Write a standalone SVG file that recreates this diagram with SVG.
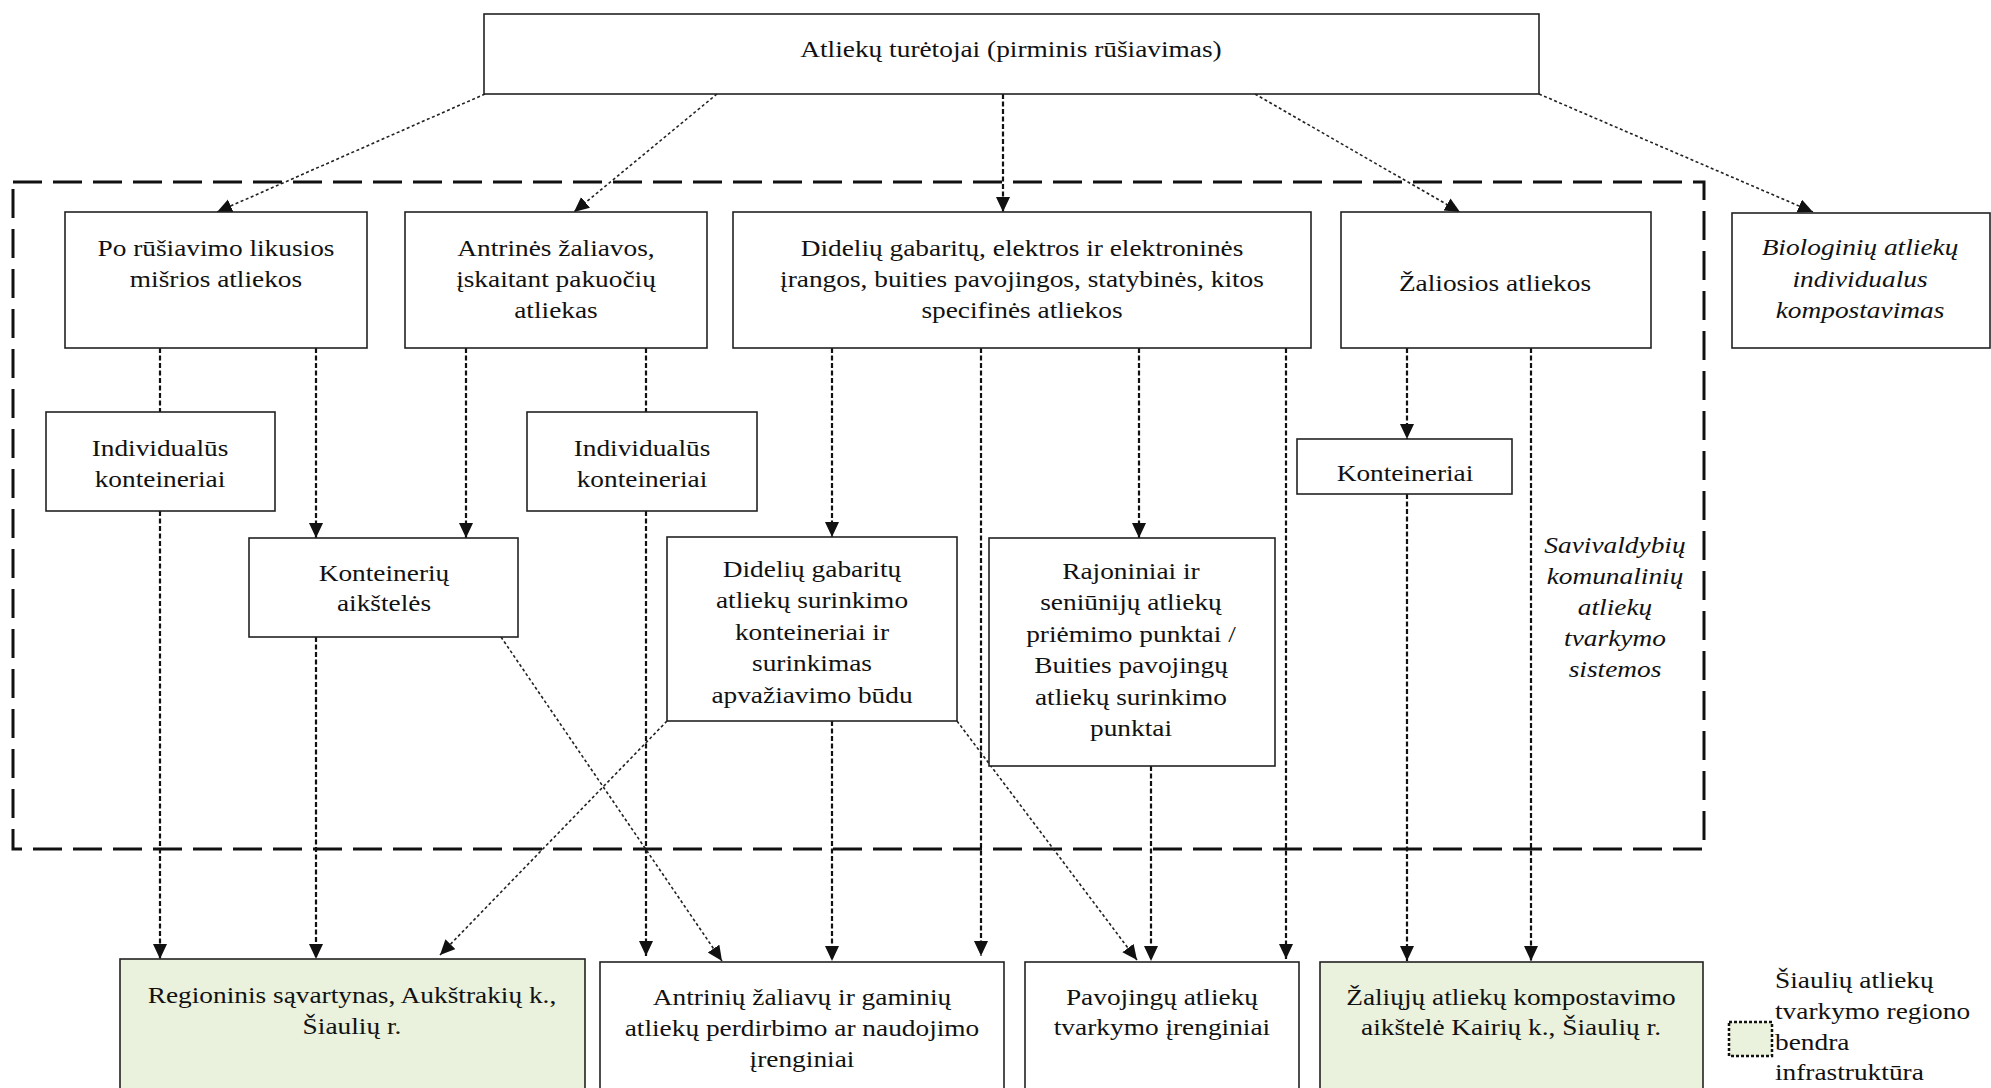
<svg xmlns="http://www.w3.org/2000/svg" width="1991" height="1088" viewBox="0 0 1991 1088">
  <style>
    .box { fill: #ffffff; stroke: #222222; stroke-width: 1.6; }
    .infra { fill: #EAF1DD; }
    .zone { fill: none; stroke: #111111; stroke-width: 3; stroke-dasharray: 29 11; }
    .flow { fill: none; stroke: #111111; stroke-width: 2.2; stroke-dasharray: 5 2.5; }
    .slant { fill: none; stroke: #222222; stroke-width: 1.6; stroke-dasharray: 3 2.5; }
    text { font-family: "Liberation Serif", "Times New Roman", serif; font-size: 24px; fill: #111111; }
    .c { text-anchor: middle; transform: scaleX(1.14); transform-box: fill-box; transform-origin: 50% 50%; }
    .l { text-anchor: start; transform: scaleX(1.14); transform-box: fill-box; transform-origin: 0 50%; }
    .i { font-style: italic; }
    .legendbox { fill: #EAF1DD; stroke: #111111; stroke-width: 2.5; stroke-dasharray: 3 2; }
  </style>
  <defs>
    <marker id="arrow" markerUnits="userSpaceOnUse" markerWidth="16" markerHeight="15" refX="15" refY="7" orient="auto">
      <path d="M0,0 L15,7 L0,14 z" fill="#111111"/>
    </marker>
  </defs>

  <!-- municipal waste management systems zone -->
  <rect class="zone" x="13" y="182" width="1691" height="667"/>

  <!-- connectors -->
  <g id="connectors">
    <!-- from waste holders -->
    <line class="slant" x1="485" y1="94" x2="217" y2="212" marker-end="url(#arrow)"/>
    <line class="slant" x1="717" y1="94" x2="574" y2="212" marker-end="url(#arrow)"/>
    <line class="flow" x1="1003" y1="94" x2="1003" y2="212" marker-end="url(#arrow)"/>
    <line class="slant" x1="1255" y1="94" x2="1460" y2="212" marker-end="url(#arrow)"/>
    <line class="slant" x1="1539" y1="94" x2="1813" y2="212" marker-end="url(#arrow)"/>

    <!-- mixed waste -->
    <line class="flow" x1="160" y1="348" x2="160" y2="412"/>
    <line class="flow" x1="160" y1="511" x2="160" y2="959" marker-end="url(#arrow)"/>
    <line class="flow" x1="316" y1="348" x2="316" y2="538" marker-end="url(#arrow)"/>
    <line class="flow" x1="316" y1="637" x2="316" y2="959" marker-end="url(#arrow)"/>

    <!-- secondary raw materials -->
    <line class="flow" x1="466" y1="348" x2="466" y2="538" marker-end="url(#arrow)"/>
    <line class="flow" x1="646" y1="348" x2="646" y2="412"/>
    <line class="flow" x1="646" y1="511" x2="646" y2="956" marker-end="url(#arrow)"/>
    <line class="slant" x1="501" y1="637" x2="722" y2="961" marker-end="url(#arrow)"/>

    <!-- bulky, electrical and other specific waste -->
    <line class="flow" x1="832" y1="348" x2="832" y2="537" marker-end="url(#arrow)"/>
    <line class="flow" x1="832" y1="721" x2="832" y2="961" marker-end="url(#arrow)"/>
    <line class="flow" x1="981" y1="348" x2="981" y2="956" marker-end="url(#arrow)"/>
    <line class="slant" x1="667" y1="721" x2="440" y2="955" marker-end="url(#arrow)"/>
    <line class="slant" x1="957" y1="721" x2="1137" y2="960" marker-end="url(#arrow)"/>
    <line class="flow" x1="1139" y1="348" x2="1139" y2="538" marker-end="url(#arrow)"/>
    <line class="flow" x1="1151" y1="766" x2="1151" y2="961" marker-end="url(#arrow)"/>
    <line class="flow" x1="1286" y1="348" x2="1286" y2="959" marker-end="url(#arrow)"/>

    <!-- green waste -->
    <line class="flow" x1="1407" y1="348" x2="1407" y2="439" marker-end="url(#arrow)"/>
    <line class="flow" x1="1407" y1="494" x2="1407" y2="961" marker-end="url(#arrow)"/>
    <line class="flow" x1="1531" y1="348" x2="1531" y2="961" marker-end="url(#arrow)"/>
  </g>

  <!-- top level -->
  <g id="n-holders">
    <rect class="box" x="484" y="14" width="1055" height="80"/>
    <text class="c" x="1011" y="57">Atliekų turėtojai (pirminis rūšiavimas)</text>
  </g>

  <!-- waste streams -->
  <g id="n-mixed">
    <rect class="box" x="65" y="212" width="302" height="136"/>
    <text class="c" x="216" y="256">Po rūšiavimo likusios</text>
    <text class="c" x="216" y="287">mišrios atliekos</text>
  </g>
  <g id="n-secondary">
    <rect class="box" x="405" y="212" width="302" height="136"/>
    <text class="c" x="556" y="256">Antrinės žaliavos,</text>
    <text class="c" x="556" y="287">įskaitant pakuočių</text>
    <text class="c" x="556" y="318">atliekas</text>
  </g>
  <g id="n-bulky">
    <rect class="box" x="733" y="212" width="578" height="136"/>
    <text class="c" x="1022" y="256">Didelių gabaritų, elektros ir elektroninės</text>
    <text class="c" x="1022" y="287">įrangos, buities pavojingos, statybinės, kitos</text>
    <text class="c" x="1022" y="318">specifinės atliekos</text>
  </g>
  <g id="n-green">
    <rect class="box" x="1341" y="212" width="310" height="136"/>
    <text class="c" x="1495" y="291">Žaliosios atliekos</text>
  </g>
  <g id="n-bio">
    <rect class="box" x="1732" y="213" width="258" height="135"/>
    <text class="c i" x="1860" y="255">Biologinių atliekų</text>
    <text class="c i" x="1860" y="287">individualus</text>
    <text class="c i" x="1860" y="318">kompostavimas</text>
  </g>

  <!-- collection level -->
  <g id="n-indiv1">
    <rect class="box" x="46" y="412" width="229" height="99"/>
    <text class="c" x="160" y="456">Individualūs</text>
    <text class="c" x="160" y="487">konteineriai</text>
  </g>
  <g id="n-indiv2">
    <rect class="box" x="527" y="412" width="230" height="99"/>
    <text class="c" x="642" y="456">Individualūs</text>
    <text class="c" x="642" y="487">konteineriai</text>
  </g>
  <g id="n-sites">
    <rect class="box" x="249" y="538" width="269" height="99"/>
    <text class="c" x="384" y="581">Konteinerių</text>
    <text class="c" x="384" y="611">aikštelės</text>
  </g>
  <g id="n-bulkycollect">
    <rect class="box" x="667" y="537" width="290" height="184"/>
    <text class="c" x="812" y="577">Didelių gabaritų</text>
    <text class="c" x="812" y="608.5">atliekų surinkimo</text>
    <text class="c" x="812" y="640">konteineriai ir</text>
    <text class="c" x="812" y="671.5">surinkimas</text>
    <text class="c" x="812" y="703">apvažiavimo būdu</text>
  </g>
  <g id="n-points">
    <rect class="box" x="989" y="538" width="286" height="228"/>
    <text class="c" x="1131" y="579">Rajoniniai ir</text>
    <text class="c" x="1131" y="610.5">seniūnijų atliekų</text>
    <text class="c" x="1131" y="642">priėmimo punktai /</text>
    <text class="c" x="1131" y="673.5">Buities pavojingų</text>
    <text class="c" x="1131" y="705">atliekų surinkimo</text>
    <text class="c" x="1131" y="736.5">punktai</text>
  </g>
  <g id="n-containers">
    <rect class="box" x="1297" y="439" width="215" height="55"/>
    <text class="c" x="1405" y="481">Konteineriai</text>
  </g>
  <g id="n-zone-label">
    <text class="c i" x="1615" y="553">Savivaldybių</text>
    <text class="c i" x="1615" y="584">komunalinių</text>
    <text class="c i" x="1615" y="615">atliekų</text>
    <text class="c i" x="1615" y="646">tvarkymo</text>
    <text class="c i" x="1615" y="677">sistemos</text>
  </g>

  <!-- regional infrastructure -->
  <g id="n-landfill">
    <rect class="box infra" x="120" y="959" width="465" height="140"/>
    <text class="c" x="352" y="1003">Regioninis sąvartynas, Aukštrakių k.,</text>
    <text class="c" x="352" y="1034">Šiaulių r.</text>
  </g>
  <g id="n-recycling">
    <rect class="box" x="600" y="962" width="404" height="140"/>
    <text class="c" x="802" y="1005">Antrinių žaliavų ir gaminių</text>
    <text class="c" x="802" y="1036">atliekų perdirbimo ar naudojimo</text>
    <text class="c" x="802" y="1067">įrenginiai</text>
  </g>
  <g id="n-hazardous">
    <rect class="box" x="1025" y="962" width="274" height="140"/>
    <text class="c" x="1162" y="1005">Pavojingų atliekų</text>
    <text class="c" x="1162" y="1035">tvarkymo įrenginiai</text>
  </g>
  <g id="n-composting">
    <rect class="box infra" x="1320" y="962" width="383" height="140"/>
    <text class="c" x="1511" y="1005">Žaliųjų atliekų kompostavimo</text>
    <text class="c" x="1511" y="1035">aikštelė Kairių k., Šiaulių r.</text>
  </g>

  <!-- legend -->
  <g id="legend">
    <rect class="legendbox" x="1729" y="1022" width="43" height="34"/>
    <text class="l" x="1775" y="988">Šiaulių atliekų</text>
    <text class="l" x="1775" y="1019">tvarkymo regiono</text>
    <text class="l" x="1775" y="1050">bendra</text>
    <text class="l" x="1775" y="1080">infrastruktūra</text>
  </g>
</svg>
